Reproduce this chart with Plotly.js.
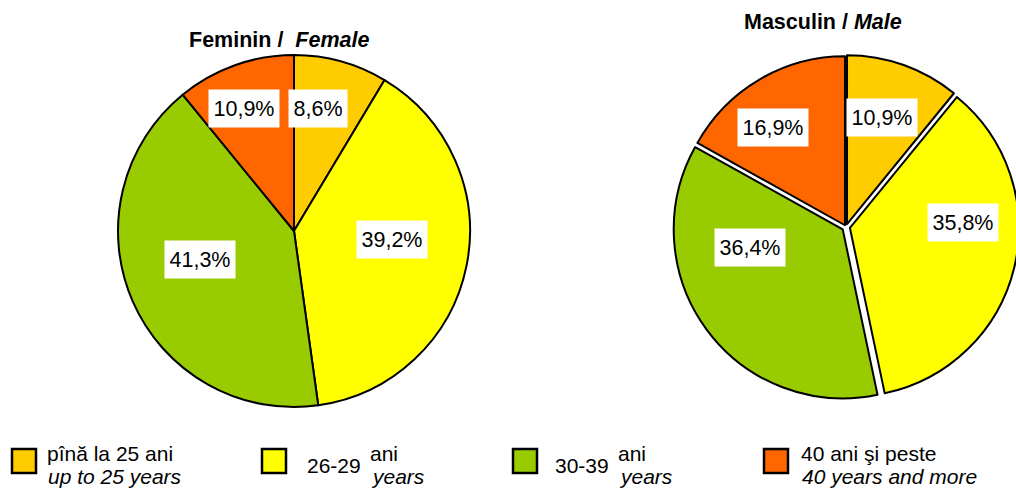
<!DOCTYPE html>
<html>
<head>
<meta charset="utf-8">
<script src="https://cdn.plot.ly/plotly-3.0.1.min.js"></script>
<style>
html,body{margin:0;padding:0;overflow:hidden;background:#fff;}
#chart{width:1030px;height:488px;}
</style>
</head>
<body>
<div id="chart"></div>
<script>
// ---- data ----
const categoriesRo = ["pînă la 25 ani", "26-29 ani", "30-39 ani", "40 ani şi peste"];
const categoriesEn = ["up to 25 years", "years", "years", "40 years and more"];
const femaleValues = [8.6, 39.2, 41.3, 10.9];
const maleValues = [10.9, 35.8, 36.4, 16.9];
const femaleTitle = "Feminin /&nbsp; <i>Female</i>";
const maleTitle = "Masculin / <i>Male</i>";

// ---- style ----
const colors = ["#FFCC00", "#FFFF00", "#99CC00", "#FF6600"];
const FONT = "Liberation Sans, Arial, sans-serif";
const W = 1030, H = 488;
const px = x => x / W;
const py = y => 1 - y / H;

const femaleGeom = {cx: 294, cy: 231, r: 176, pull: [0, 0, 0, 0],
  labelR: [0.71, 0.56, 0.56, 0.75], labelDA: [-4.4, -6.3, 7, -2.6]};
const maleGeom = {cx: 846, cy: 227, r: 169, pull: [0.018, 0.024, 0.024, 0.012],
  labelR: [0.68, 0.69, 0.58, 0.73], labelDA: [-1.4, -15.7, 24, -5.7]};

function domainOf(g) {
  const maxPull = Math.max(...g.pull);
  const R = g.r * (1 + maxPull);
  return {x: [px(g.cx - R), px(g.cx + R)], y: [py(g.cy + R), py(g.cy - R)]};
}

function pieTrace(values, g) {
  return {
    type: "pie",
    values: values,
    labels: categoriesRo,
    sort: false,
    direction: "clockwise",
    rotation: 0,
    pull: g.pull,
    textinfo: "none",
    hoverinfo: "label+percent",
    marker: {colors: colors, line: {color: "#000", width: 2}},
    domain: domainOf(g),
    showlegend: false
  };
}

function labelAnnotations(values, g) {
  const total = values.reduce((a, b) => a + b, 0);
  let cum = 0;
  return values.map((v, i) => {
    const mid = (cum + v / 2) / total * 360 + g.labelDA[i];
    cum += v;
    const a = mid * Math.PI / 180;
    const x = g.cx + g.labelR[i] * g.r * Math.sin(a);
    const y = g.cy - g.labelR[i] * g.r * Math.cos(a);
    return {
      xref: "paper", yref: "paper", x: px(x), y: py(y),
      xanchor: "center", yanchor: "middle", showarrow: false,
      text: v.toFixed(1).replace(".", ",") + "%",
      font: {family: FONT, size: 21.5, color: "#000"},
      bgcolor: "#fff", borderpad: 4.5, height: 28
    };
  });
}

const annotations = [];
annotations.push(...labelAnnotations(femaleValues, femaleGeom));
annotations.push(...labelAnnotations(maleValues, maleGeom));

function txt(x, y, text, opts) {
  return Object.assign({
    xref: "paper", yref: "paper", x: px(x), y: py(y),
    xanchor: "left", yanchor: "middle", showarrow: false, text: text,
    font: {family: FONT, size: 21, color: "#000"}, borderpad: 0
  }, opts || {});
}

// titles
annotations.push(txt(278.5, 39.5, "<b>" + femaleTitle + "</b>", {xanchor: "center", font: {family: FONT, size: 21.5, color: "#000"}}));
annotations.push(txt(822.5, 22, "<b>" + maleTitle + "</b>", {xanchor: "center", font: {family: FONT, size: 21.5, color: "#000"}}));

// legend
const boxX = [12, 262, 513, 764];
const shapes = boxX.map((x, i) => ({
  type: "rect", xref: "paper", yref: "paper",
  x0: px(x), x1: px(x + 24), y0: py(473), y1: py(449),
  fillcolor: colors[i], line: {color: "#000", width: 2.5}
}));
// entry 1
annotations.push(txt(46, 453, categoriesRo[0]));
annotations.push(txt(47, 476, "<i>" + categoriesEn[0] + "</i>"));
// entry 2
const parts2 = categoriesRo[1].split(" ");
annotations.push(txt(306, 465, parts2[0]));
annotations.push(txt(369, 453, parts2[1]));
annotations.push(txt(370, 476, "<i>" + categoriesEn[1] + "</i>"));
// entry 3
const parts3 = categoriesRo[2].split(" ");
annotations.push(txt(554, 465, parts3[0]));
annotations.push(txt(617, 453, parts3[1]));
annotations.push(txt(618, 476, "<i>" + categoriesEn[2] + "</i>"));
// entry 4
annotations.push(txt(800, 453, categoriesRo[3]));
annotations.push(txt(801, 476, "<i>" + categoriesEn[3] + "</i>"));

const layout = {
  width: W, height: H,
  margin: {l: 0, r: 0, t: 0, b: 0},
  paper_bgcolor: "#fff",
  showlegend: false,
  font: {family: FONT},
  annotations: annotations,
  shapes: shapes
};

Plotly.newPlot("chart", [pieTrace(femaleValues, femaleGeom), pieTrace(maleValues, maleGeom)], layout, {displayModeBar: false, staticPlot: true});
</script>
</body>
</html>
